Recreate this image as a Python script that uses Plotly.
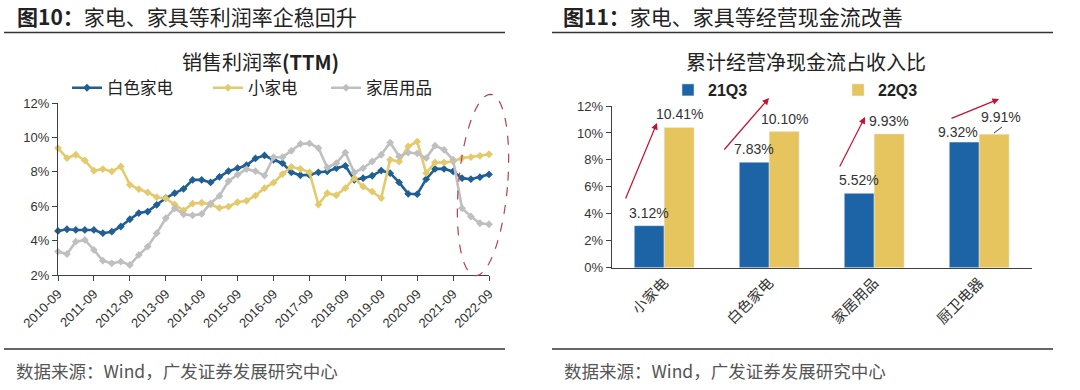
import numpy as np
import plotly.graph_objects as go

# ---------------- data ----------------
years = list(range(2010, 2023))
quarters = [f"{y}-{m:02d}" for y in years for m in (3, 6, 9, 12)]
quarters = quarters[quarters.index("2010-09"):quarters.index("2022-09") + 1]
tick_labels = [f"{y}-09" for y in years]

white_goods = [4.56, 4.66, 4.62, 4.62, 4.62, 4.43, 4.52, 4.82, 5.24, 5.60,
               5.69, 6.08, 6.47, 6.76, 7.01, 7.53, 7.53, 7.38, 7.71, 8.04,
               8.21, 8.38, 8.78, 8.95, 8.70, 8.50, 7.97, 7.80, 7.82, 7.97,
               8.02, 8.21, 8.35, 7.53, 7.63, 7.77, 8.07, 7.92, 7.38, 6.72,
               6.70, 7.57, 8.17, 8.17, 8.02, 7.63, 7.57, 7.69, 7.85]
small_appl = [9.38, 8.80, 8.99, 8.66, 8.06, 8.16, 8.02, 8.31, 7.24, 6.99,
              6.80, 6.52, 6.45, 6.10, 5.75, 6.15, 6.20, 6.10, 5.90, 5.98,
              6.23, 6.31, 6.62, 7.05, 7.37, 7.87, 8.29, 8.17, 7.97, 6.10,
              6.76, 6.63, 7.05, 7.63, 7.14, 6.85, 6.47, 8.70, 8.60, 9.47,
              9.76, 7.92, 8.54, 8.54, 8.60, 8.80, 8.85, 8.93, 9.02]
home_furn = [3.36, 3.22, 3.94, 4.04, 3.46, 2.83, 2.68, 2.78, 2.58, 3.17,
             3.65, 4.43, 5.30, 5.88, 5.53, 5.47, 5.55, 6.17, 6.60, 7.45,
             7.84, 8.15, 8.04, 7.78, 8.85, 8.85, 9.22, 9.62, 9.65, 9.38,
             8.25, 8.50, 9.12, 7.96, 8.21, 8.60, 8.99, 9.70, 8.89, 9.12,
             9.07, 8.80, 9.52, 9.28, 8.70, 5.88, 5.40, 5.01, 4.95]

bar_categories = ["小家电", "白色家电", "家居用品", "厨卫电器"]
cash_21q3 = [3.12, 7.83, 5.52, 9.32]
cash_22q3 = [10.41, 10.10, 9.93, 9.91]

# ---------------- style ----------------
W, H = 1080, 390
def px(x):
    return x / W
def py(y):
    return 1 - y / H

FONT = "Liberation Sans, Arial, Noto Sans CJK SC, sans-serif"
CJK = "Noto Sans CJK SC, sans-serif"
C_BLUE_L = "#1F5F94"
C_YEL_L = "#E3CA6A"
C_GRAY_L = "#BFBFBF"
C_BLUE_B = "#1D64A6"
C_YEL_B = "#E6C45E"
AXIS = "#404040"

fig = go.Figure()

line_series = [("白色家电", white_goods, C_BLUE_L, "legend"),
               ("小家电", small_appl, C_YEL_L, "legend2"),
               ("家居用品", home_furn, C_GRAY_L, "legend3")]
for name, vals, col, lg in line_series:
    fig.add_trace(go.Scatter(
        x=quarters, y=vals, name=name, mode="lines+markers",
        line=dict(color=col, width=2.6),
        marker=dict(symbol="diamond", size=6, color=col),
        xaxis="x", yaxis="y", legend=lg, cliponaxis=False, showlegend=True))

fig.add_trace(go.Bar(x=bar_categories, y=cash_21q3, name="<b>21Q3</b>",
                     marker_color=C_BLUE_B, xaxis="x2", yaxis="y2",
                     legend="legend4", showlegend=True))
fig.add_trace(go.Bar(x=bar_categories, y=cash_22q3, name="<b>22Q3</b>",
                     marker_color=C_YEL_B, xaxis="x2", yaxis="y2",
                     legend="legend5", showlegend=True))

leg_common = dict(orientation="h", yanchor="middle", xanchor="left",
                  bgcolor="rgba(0,0,0,0)", itemwidth=30,
                  font=dict(family=CJK, size=16.5, color="#222"))
leg_bar = dict(leg_common, font=dict(family=FONT, size=16, color="#222"))

fig.update_layout(
    width=W, height=H, margin=dict(l=0, r=0, t=0, b=0, pad=0),
    autosize=False, showlegend=True,
    paper_bgcolor="white", plot_bgcolor="white",
    font=dict(family=FONT, size=12, color="#333"),
    barmode="group", bargap=0.43, bargroupgap=0,
    legend=dict(leg_common, x=px(67), y=py(88)),
    legend2=dict(leg_common, x=px(208), y=py(88)),
    legend3=dict(leg_common, x=px(326), y=py(88)),
    legend4=dict(leg_bar, x=px(668), y=py(90)),
    legend5=dict(leg_bar, x=px(838), y=py(90)),
    xaxis=dict(domain=[px(58), px(489)], type="date", automargin=False,
               range=[quarters[0], quarters[-1]],
               tickvals=tick_labels, ticktext=tick_labels,
               tickangle=-45, ticks="outside", ticklen=5, tickcolor=AXIS,
               showline=True, linecolor=AXIS, linewidth=1.2,
               showgrid=False, zeroline=False,
               tickfont=dict(size=13, color="#333"), anchor="y"),
    yaxis=dict(domain=[py(275), py(103)], range=[2, 12], dtick=2,
               automargin=False,
               ticksuffix="%", ticks="outside", ticklen=5, tickcolor=AXIS,
               showline=True, linecolor=AXIS, linewidth=1.2,
               showgrid=False, zeroline=False,
               tickfont=dict(size=13, color="#333"), anchor="x"),
    xaxis2=dict(domain=[px(611.7), px(1031.7)], type="category",
                automargin=False,
                tickangle=-45, ticks="", showline=True, linecolor=AXIS,
                linewidth=1.2, showgrid=False,
                tickfont=dict(family=CJK, size=14.5, color="#333"),
                anchor="y2"),
    yaxis2=dict(domain=[py(267.7), py(106)], range=[0, 12], dtick=2,
                automargin=False,
                ticksuffix="%", ticks="outside", ticklen=5, tickcolor=AXIS,
                showline=True, linecolor=AXIS, linewidth=1.2,
                showgrid=False, zeroline=False,
                tickfont=dict(size=13, color="#333"), anchor="x2"),
)

ann = []
def text(x, y, t, size, xanchor="left", color="#222", family=CJK):
    ann.append(dict(x=px(x), y=py(y), xref="paper", yref="paper", text=t,
                    showarrow=False, xanchor=xanchor, yanchor="middle",
                    font=dict(family=family, size=size, color=color)))

text(15, 16, "<b>图10：</b>家电、家具等利润率企稳回升", 21)
text(561, 16, "<b>图11：</b>家电、家具等经营现金流改善", 21)
text(260, 62, "销售利润率<b>(TTM)</b>", 20, xanchor="center")
text(806, 62, "累计经营净现金流占收入比", 20, xanchor="center")
text(14, 370, "数据来源：Wind，广发证券发展研究中心", 17.5, color="#555")
text(562, 370, "数据来源：Wind，广发证券发展研究中心", 17.5, color="#555")

# bar value labels
half = (1 - 0.43) / 4
shift21 = [(0, 3), (0, 3), (0, 3), (-6, 0)]
shift22 = [(0, 3), (0, 3), (0, 3), (7, 7)]
for i, v in enumerate(cash_21q3):
    ann.append(dict(x=i - half, y=v, xref="x2", yref="y2", text=f"{v:.2f}%",
                    showarrow=False, yanchor="bottom",
                    xshift=shift21[i][0], yshift=shift21[i][1],
                    font=dict(family=FONT, size=14, color="#333")))
for i, v in enumerate(cash_22q3):
    ann.append(dict(x=i + half, y=v, xref="x2", yref="y2", text=f"{v:.2f}%",
                    showarrow=False, yanchor="bottom",
                    xshift=shift22[i][0], yshift=shift22[i][1],
                    font=dict(family=FONT, size=14, color="#333")))

# red trend arrows (decorative)
arrows = [((657, 123), (625, 200)), ((769, 98), (723, 151)),
          ((865, 117), (839, 168)), ((999, 99), (950, 119))]
for (hx, hy), (tx, ty) in arrows:
    ann.append(dict(x=px(hx), y=py(hy), xref="paper", yref="paper", text="",
                    showarrow=True, ax=tx - hx, ay=ty - hy,
                    arrowhead=2, arrowsize=1.1, arrowwidth=1.2,
                    arrowcolor="#C8102E", standoff=0))
fig.update_layout(annotations=ann)

shapes = []
for x0, x1 in ((4, 505), (552, 1053)):
    shapes.append(dict(type="line", xref="paper", yref="paper",
                       x0=px(x0), x1=px(x1), y0=py(32.5), y1=py(32.5),
                       line=dict(color="#333", width=1.5)))
    shapes.append(dict(type="line", xref="paper", yref="paper",
                       x0=px(x0), x1=px(x1), y0=py(349), y1=py(349),
                       line=dict(color="#333", width=1.5)))
# leader line for 9.91%
shapes.append(dict(type="line", xref="paper", yref="paper",
                   x0=px(994), x1=px(1002), y0=py(133), y1=py(127),
                   line=dict(color="#333", width=1)))
# dashed tilted ellipse highlighting recent quarters
t = np.linspace(0, 2 * np.pi, 80)
cx, cy, a, b, th = 483, 185, 24.5, 91, np.deg2rad(5)
ex = cx + a * np.cos(t) * np.cos(th) - b * np.sin(t) * np.sin(th)
ey = cy + a * np.cos(t) * np.sin(th) + b * np.sin(t) * np.cos(th)
path = "M " + " L ".join(f"{px(xx):.5f},{py(yy):.5f}" for xx, yy in zip(ex, ey)) + " Z"
shapes.append(dict(type="path", xref="paper", yref="paper", path=path,
                   line=dict(color="#B5404A", width=1.2, dash="dash")))
fig.update_layout(shapes=shapes)

fig.write_html("out.html",
               config={"displayModeBar": False},
               post_script="document.body.style.margin='0';"
                           "document.body.style.overflow='hidden';")
